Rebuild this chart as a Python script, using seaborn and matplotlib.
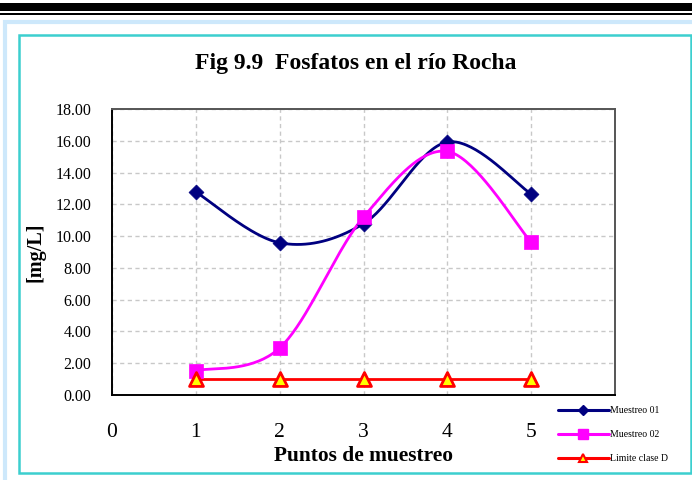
import numpy as np
import pandas as pd
import matplotlib
matplotlib.use("Agg")
import matplotlib.pyplot as plt
from matplotlib.lines import Line2D
from matplotlib.patches import Rectangle
import seaborn as sns

# Sampling points and measured phosphate concentrations [mg/L]
puntos = [1, 2, 3, 4, 5]
muestreo_01 = [12.78, 9.58, 10.78, 15.92, 12.65]
muestreo_02 = [1.53, 2.96, 11.20, 15.33, 9.62]
limite_clase_d = [1.0, 1.0, 1.0, 1.0, 1.0]

y_ticks = [0, 2, 4, 6, 8, 10, 12, 14, 16, 18]
x_ticks = [0, 1, 2, 3, 4, 5, 6]
x_tick_labels = ["0", "1", "2", "3", "4", "5", ""]

SERIF = "Liberation Serif"
NAVY = "#000080"
MAGENTA = "#FF00FF"
RED = "#FF0000"
YELLOW = "#FFFF00"


def smooth_curve(xs, ys, n=40):
    """Spreadsheet-style smoothed line: cubic Bezier segments through the points."""
    pts = np.column_stack([xs, ys]).astype(float)
    ext = np.vstack([pts[0], pts, pts[-1]])
    t = np.linspace(0, 1, n)[:, None]
    segs = []
    for i in range(len(pts) - 1):
        p0, p1, p2, p3 = ext[i], ext[i + 1], ext[i + 2], ext[i + 3]
        c1 = p1 + (p2 - p0) / 6.0
        c2 = p2 - (p3 - p1) / 6.0
        seg = ((1 - t) ** 3) * p1 + 3 * ((1 - t) ** 2) * t * c1 \
            + 3 * (1 - t) * t ** 2 * c2 + t ** 3 * p2
        segs.append(seg if i == 0 else seg[1:])
    curve = np.vstack(segs)
    return pd.DataFrame({"x": curve[:, 0], "y": curve[:, 1]})


sns.set_style("white")
plt.rcParams["font.family"] = [SERIF, "DejaVu Serif"]
plt.rcParams.update({"text.color": "black", "axes.labelcolor": "black",
                     "xtick.color": "black", "ytick.color": "black"})

W, H = 692, 480
fig = plt.figure(figsize=(W / 100, H / 100), dpi=100)


def px_rect(x0, y0, x1, y1, **kw):
    fig.patches.append(Rectangle((x0 / W, 1 - y1 / H), (x1 - x0) / W, (y1 - y0) / H,
                                 transform=fig.transFigure, zorder=-5, **kw))


# Page header rules
px_rect(0, 3, W, 10.5, facecolor="black", edgecolor="none")
px_rect(0, 12.8, W, 15.3, facecolor="black", edgecolor="none")
# Outer light-blue frame and teal chart border
px_rect(5, 22, W + 5, H + 5, facecolor="none", edgecolor="#cde8fb", linewidth=3)
px_rect(19, 34.5, 690.5, 473, facecolor="white", edgecolor="#3ccfcf", linewidth=1.8)

ax = fig.add_axes([112 / W, 1 - 395 / H, (615 - 112) / W, (395 - 109) / H])
ax.set_zorder(2)
ax.set_facecolor("white")

series = [
    (muestreo_01, "Muestreo 01", NAVY, "D", 7.6, NAVY, NAVY, 0.5),
    (muestreo_02, "Muestreo 02", MAGENTA, "s", 10.5, MAGENTA, MAGENTA, 0.5),
    (limite_clase_d, "Limite clase D", RED, "^", 10.0, YELLOW, RED, 2.0),
]

for vals, name, color, mk, ms, fc, ec, mew in series:
    curve = smooth_curve(puntos, vals)
    sns.lineplot(data=curve, x="x", y="y", sort=False, estimator=None,
                 color=color, linewidth=2.0, ax=ax, zorder=3)
    pts = pd.DataFrame({"x": puntos, "y": vals})
    sns.scatterplot(data=pts, x="x", y="y", marker=mk, s=ms ** 2, color=fc,
                    edgecolor=ec, linewidth=mew, ax=ax, zorder=4)

ax.set_xlim(0, 6)
ax.set_ylim(0, 18)
ax.set_xticks(x_ticks)
ax.set_xticklabels(x_tick_labels, fontsize=15.5)
ax.set_yticks(y_ticks)
ax.set_yticklabels([f"{v:.2f}" for v in y_ticks], fontsize=11.5)
ax.tick_params(axis="x", direction="out", length=5, width=1, pad=15, colors="black")
ax.tick_params(axis="y", direction="out", length=5, width=1, pad=10, colors="black")

ax.grid(True, color="#c8c8c8", linestyle=(0, (3, 2.5)), linewidth=1.0)
ax.set_axisbelow(True)

for side in ("left", "bottom"):
    ax.spines[side].set_color("black")
    ax.spines[side].set_linewidth(1.4)
for side in ("top", "right"):
    ax.spines[side].set_visible(True)
    ax.spines[side].set_color("#555555")
    ax.spines[side].set_linewidth(1.4)

ax.set_xlabel("Puntos de muestreo", fontsize=15.4, fontweight="bold", labelpad=3)
ax.set_ylabel("[mg/L]", fontsize=14.5, fontweight="bold", labelpad=7)

fig.text(356 / W, 1 - 63 / H, "Fig 9.9  Fosfatos en el río Rocha",
         ha="center", va="center", fontsize=17, fontweight="bold")

handles = [
    Line2D([], [], color=NAVY, lw=2.2, marker="D", markersize=5,
           markerfacecolor=NAVY, markeredgecolor=NAVY),
    Line2D([], [], color=MAGENTA, lw=2.2, marker="s", markersize=7,
           markerfacecolor=MAGENTA, markeredgecolor=MAGENTA),
    Line2D([], [], color=RED, lw=2.2, marker="^", markersize=6,
           markerfacecolor=YELLOW, markeredgecolor=RED, markeredgewidth=1.5),
]
leg = fig.legend(handles, [s[1] for s in series], loc="upper left",
                 bbox_to_anchor=(558 / W, 1 - 406 / H), frameon=False,
                 prop={"family": SERIF, "size": 7}, handlelength=5.2,
                 handletextpad=0.1, labelspacing=1.55, borderpad=0, borderaxespad=0)
leg.set_zorder(3)

fig.savefig("out.png", dpi=100)
